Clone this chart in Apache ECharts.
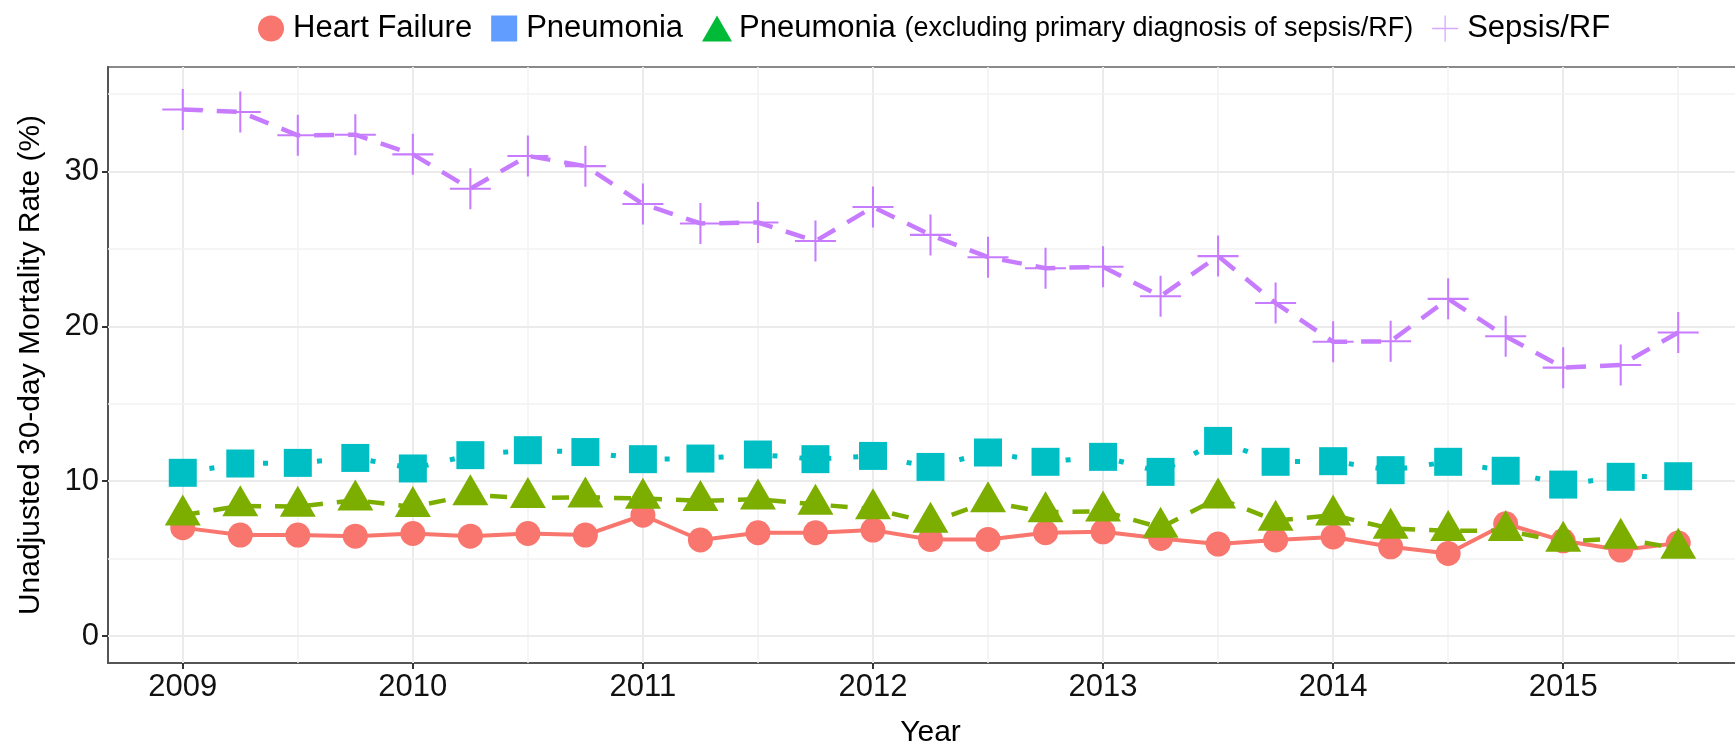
<!DOCTYPE html>
<html>
<head>
<meta charset="utf-8">
<script src="https://cdn.jsdelivr.net/npm/echarts@6.0.0/dist/echarts.min.js"></script>
<style>
  html, body { margin: 0; padding: 0; background: #fff; }
  #chart { width: 1735px; height: 746px; }
</style>
</head>
<body>
<div id="chart"></div>
<script>
// quarterly time points (x)
var quarters = [2009, 2009.25, 2009.5, 2009.75, 2010, 2010.25, 2010.5, 2010.75,
  2011, 2011.25, 2011.5, 2011.75, 2012, 2012.25, 2012.5, 2012.75,
  2013, 2013.25, 2013.5, 2013.75, 2014, 2014.25, 2014.5, 2014.75,
  2015, 2015.25, 2015.5];

var heartFailure = [7.0, 6.52, 6.52, 6.45, 6.62, 6.45, 6.62, 6.52,
  7.8, 6.2, 6.67, 6.67, 6.84, 6.24, 6.24, 6.67,
  6.73, 6.3, 5.94, 6.2, 6.4, 5.76, 5.33, 7.25,
  6.15, 5.55, 6.0];
var pneumonia = [10.54, 11.14, 11.18, 11.5, 10.82, 11.68, 12.0, 11.88,
  11.42, 11.46, 11.72, 11.42, 11.63, 10.92, 11.85, 11.25,
  11.57, 10.6, 12.6, 11.25, 11.29, 10.71, 11.25, 10.67,
  9.78, 10.28, 10.32];
var pneumoniaExcl = [7.8, 8.4, 8.36, 8.77, 8.34, 9.1, 8.92, 8.96,
  8.88, 8.73, 8.83, 8.5, 8.2, 7.33, 8.66, 8.0,
  8.06, 7.0, 8.9, 7.46, 7.8, 6.94, 6.8, 6.8,
  6.1, 6.3, 5.65];
var sepsis = [34.0, 33.84, 32.33, 32.37, 31.1, 28.88, 31.0, 30.34,
  27.9, 26.64, 26.7, 25.5, 27.7, 25.9, 24.46, 23.75,
  23.84, 21.94, 24.53, 21.5, 19.0, 19.03, 21.77, 19.35,
  17.33, 17.5, 19.6];

// tick labels and grid lines
var yearTicks = [2009, 2010, 2011, 2012, 2013, 2014, 2015];
var halfYears = [2009.5, 2010.5, 2011.5, 2012.5, 2013.5, 2014.5, 2015.5];
var yTicks = [0, 10, 20, 30];
var yMinor = [5, 15, 25, 35];

var names = ['Heart Failure', 'Pneumonia',
  'Pneumonia (excluding primary diagnosis of sepsis/RF)', 'Sepsis/RF'];

var plusPath = 'path://M19,0H21V19H40V21H21V40H19V21H0V19H19Z';

function pairs (vals) {
  return quarters.map(function (q, i) { return [q, vals[i]]; });
}

var major = { color: '#EBEBEB', width: 2, type: 'solid' };
var minor = { color: '#F2F2F2', width: 1.5, type: 'solid' };
var gridLines = [];
yearTicks.forEach(function (v) { gridLines.push({ xAxis: v, lineStyle: major }); });
halfYears.forEach(function (v) { gridLines.push({ xAxis: v, lineStyle: minor }); });
yTicks.forEach(function (v) { gridLines.push({ yAxis: v, lineStyle: major }); });
yMinor.forEach(function (v) { gridLines.push({ yAxis: v, lineStyle: minor }); });

var chart = echarts.init(document.getElementById('chart'));
var option = {
  animation: false,
  backgroundColor: '#fff',
  textStyle: { fontFamily: 'Liberation Sans, Arial, sans-serif' },
  legend: {
    left: 253,
    top: 8,
    itemWidth: 34,
    itemHeight: 26,
    itemGap: 19,
    selectedMode: false,
    textStyle: {
      fontSize: 31,
      color: '#000',
      rich: {
        b: { fontSize: 31, color: '#000' },
        s: { fontSize: 27, color: '#000' }
      }
    },
    formatter: function (name) {
      var k = name.indexOf(' (');
      if (k < 0) return name;
      return '{b|' + name.slice(0, k) + '} {s|' + name.slice(k + 1) + '}';
    },
    data: [
      { name: names[0], icon: 'circle', itemStyle: { color: '#F8766D' } },
      { name: names[1], icon: 'path://M0,0H10V10H0Z', itemStyle: { color: '#619CFF' } },
      { name: names[2], icon: 'path://M0,26L15,0L30,26Z', itemStyle: { color: '#00BA38' } },
      { name: names[3], icon: plusPath, itemStyle: { color: '#D7A8FF' } }
    ]
  },
  grid: {
    left: 108,
    right: -18,
    top: 67,
    bottom: 83,
    show: true,
    backgroundColor: '#fff',
    borderColor: '#8a8a8a',
    borderWidth: 2,
    containLabel: false,
    outerBoundsMode: 'none'
  },
  xAxis: {
    type: 'value',
    min: 2008.675,
    max: 2015.825,
    name: 'Year',
    nameLocation: 'middle',
    nameGap: 55,
    nameTextStyle: { fontSize: 30, color: '#000' },
    axisLine: { show: true, onZero: false, lineStyle: { color: '#555', width: 2 } },
    axisTick: { show: true, length: 6, customValues: yearTicks, lineStyle: { color: '#333', width: 2 } },
    axisLabel: {
      customValues: yearTicks, fontSize: 31, color: '#111', margin: 9,
      formatter: function (v) { return String(v); }
    },
    splitLine: { show: false }
  },
  yAxis: {
    type: 'value',
    min: -1.74,
    max: 36.74,
    name: 'Unadjusted 30-day Mortality Rate (%)',
    nameLocation: 'middle',
    nameGap: 62,
    nameTextStyle: { fontSize: 30, color: '#000' },
    axisLine: { show: true, onZero: false, lineStyle: { color: '#555', width: 2 } },
    axisTick: { show: true, length: 6, customValues: yTicks, lineStyle: { color: '#333', width: 2 } },
    axisLabel: { customValues: yTicks, fontSize: 31, color: '#111', margin: 9 },
    splitLine: { show: false }
  },
  series: [
    {
      name: names[0],
      type: 'line',
      data: pairs(heartFailure),
      symbol: 'circle',
      symbolSize: 25,
      itemStyle: { color: '#F8766D', borderWidth: 0 },
      lineStyle: { color: '#F8766D', width: 4 },
      markLine: {
        silent: true,
        z: 1,
        symbol: 'none',
        label: { show: false },
        emphasis: { disabled: true },
        animation: false,
        data: gridLines
      }
    },
    {
      name: names[1],
      type: 'line',
      data: pairs(pneumonia),
      symbol: 'rect',
      symbolSize: 28,
      itemStyle: { color: '#00BFC4', borderWidth: 0 },
      lineStyle: { color: '#00BFC4', width: 5, type: [5, 22] }
    },
    {
      name: names[2],
      type: 'line',
      data: pairs(pneumoniaExcl),
      symbol: 'triangle',
      symbolSize: [36, 31],
      symbolOffset: [0, '-17%'],
      itemStyle: { color: '#7CAE00', borderWidth: 0 },
      lineStyle: { color: '#7CAE00', width: 4.5, type: [17, 14] }
    },
    {
      name: names[3],
      type: 'line',
      data: pairs(sepsis),
      symbol: plusPath,
      symbolSize: 41,
      itemStyle: { color: '#C77CFF', borderWidth: 0 },
      lineStyle: { color: '#C77CFF', width: 4.5, type: [20, 14] }
    }
  ]
};
chart.setOption(option);
</script>
</body>
</html>
